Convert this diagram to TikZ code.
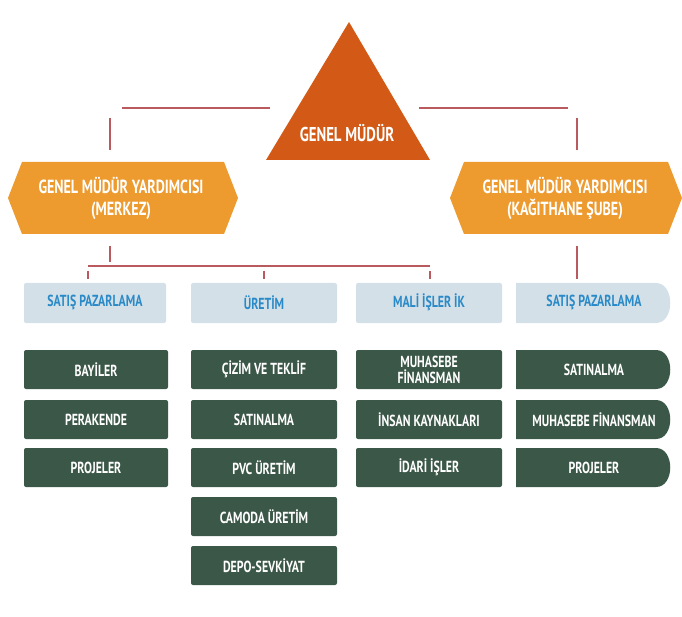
\documentclass[tikz,border=0pt]{standalone}
\usepackage{fontspec}
\setmainfont{PT Sans}[FakeStretch=0.74]
\begin{document}
\begin{tikzpicture}[x=1pt,y=-1pt,
  ln/.style={draw=lnc,line width=1.6pt},
  blue/.style={fill=bluef,text=bluet,font=\bfseries\fontsize{16}{18}\selectfont},
  dark/.style={fill=darkg,text=white,font=\bfseries\fontsize{16}{16}\selectfont,align=center},
  lbl/.style={text=white,font=\bfseries\fontsize{19}{22}\selectfont,align=center}]
\definecolor{tri}{HTML}{D35A16}
\definecolor{hex}{HTML}{ED9A2E}
\definecolor{lnc}{HTML}{B85A5E}
\definecolor{bluef}{HTML}{D3E0E8}
\definecolor{bluet}{HTML}{2A8AC8}
\definecolor{darkg}{HTML}{3B5747}
\useasboundingbox (0,0) rectangle (682,617);
% triangle
\fill[tri] (349,22) -- (430,160) -- (266,160) -- cycle;
\node[lbl,font=\bfseries\fontsize{20}{22}\selectfont] (gm) at (347,133) {GENEL MÜDÜR};
% hexagons
\fill[hex] (8,198) -- (22,162) -- (224,162) -- (238,198) -- (224,234) -- (22,234) -- cycle;
\node[lbl] (gy1) at (121,198) {GENEL MÜDÜR YARDIMCISI\\(MERKEZ)};
\fill[hex] (450,198) -- (464,162) -- (668,162) -- (682,198) -- (668,234) -- (464,234) -- cycle;
\node[lbl] (gy2) at (565,198) {GENEL MÜDÜR YARDIMCISI\\(KAĞITHANE ŞUBE)};
% connectors
\coordinate (l1) at (122,108); \coordinate (l2) at (270,108);
\coordinate (r1) at (419,108); \coordinate (r2) at (568,108);
\draw[ln] (l1) -- (l2); \draw[ln] (r1) -- (r2);
\coordinate (lv1) at (110,118); \coordinate (lv2) at (110,150);
\coordinate (rv1) at (577,118); \coordinate (rv2) at (577,150);
\draw[ln] (lv1) -- (lv2); \draw[ln] (rv1) -- (rv2);
\coordinate (d1) at (110,246); \coordinate (d2) at (110,262);
\draw[ln] (d1) -- (d2);
\coordinate (h1) at (88,266); \coordinate (h2) at (430,266);
\draw[ln] (h1) -- (h2);
\foreach \x/\n in {88/a,264/b,430/c}{
  \coordinate (t\n1) at (\x,271); \coordinate (t\n2) at (\x,279);
  \draw[ln] (t\n1) -- (t\n2);}
\coordinate (rd1) at (577,246); \coordinate (rd2) at (577,279);
\draw[ln] (rd1) -- (rd2);
% blue boxes
\fill[bluef,rounded corners=2pt] (24,283) rectangle (166,323);
\node[blue] (b1) at (95,302) {SATIŞ PAZARLAMA};
\fill[bluef,rounded corners=2pt] (191,283) rectangle (337,323);
\node[blue] (b2) at (264,303) {ÜRETİM};
\fill[bluef,rounded corners=2pt] (356,283) rectangle (502,323);
\node[blue] (b3) at (429,302) {MALİ İŞLER İK};
\fill[bluef] (516,283) -- (656,283) .. controls (675,283) and (675,323) .. (656,323) -- (516,323) -- cycle;
\node[blue] (b4) at (594,302) {SATIŞ PAZARLAMA};
% dark boxes
\foreach \t/\y [count=\i] in {BAYİLER/350,PERAKENDE/400,PROJELER/448}{
  \fill[darkg,rounded corners=2pt] (24,\y) rectangle (168,\y+39);
  \node[dark] (c1\i) at (96,\y+19.5) {\t};}
\foreach \t/\y [count=\i] in {ÇİZİM VE TEKLİF/350,SATINALMA/400,PVC ÜRETİM/448,CAMODA ÜRETİM/497,DEPO-SEVKİYAT/546}{
  \fill[darkg,rounded corners=2pt] (191,\y) rectangle (337,\y+39);
  \node[dark] (c2\i) at (264,\y+19.5) {\t};}
\foreach \t/\y [count=\i] in {{MUHASEBE\\FİNANSMAN}/350,İNSAN KAYNAKLARI/400,İDARİ İŞLER/448}{
  \fill[darkg,rounded corners=2pt] (356,\y) rectangle (502,\y+39);
  \node[dark] (c3\i) at (429,\y+19.5) {\t};}
\foreach \t/\y [count=\i] in {SATINALMA/350,MUHASEBE FİNANSMAN/400,PROJELER/448}{
  \fill[darkg] (516,\y) -- (656,\y) .. controls (675,\y) and (675,\y+39) .. (656,\y+39) -- (516,\y+39) -- cycle;
  \node[dark] (c4\i) at (594,\y+19.5) {\t};}
\end{tikzpicture}
\end{document}
